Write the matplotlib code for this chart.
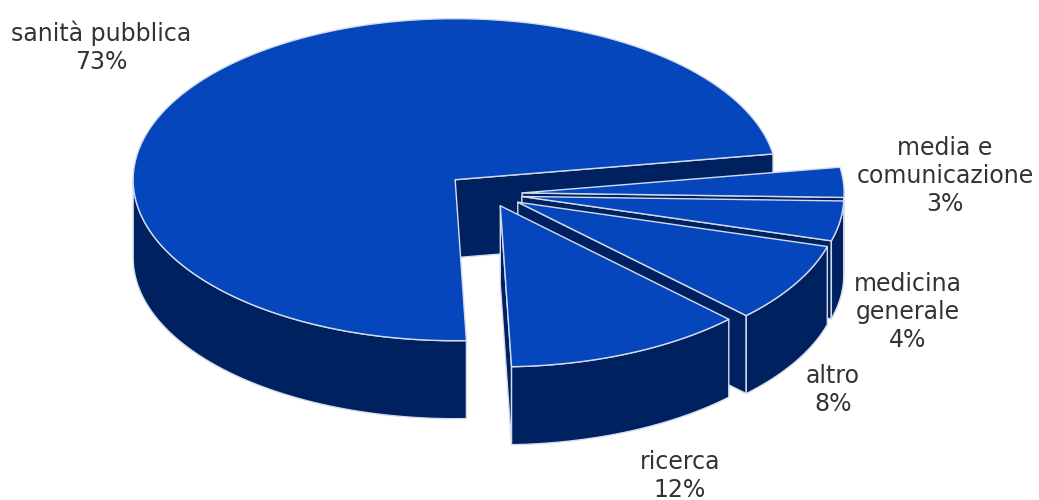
import numpy as np
import matplotlib
matplotlib.use("Agg")
import matplotlib.pyplot as plt
from matplotlib.patches import Polygon

# --- data ---
labels = ["media e\ncomunicazione", "sanità pubblica", "ricerca", "altro", "medicina\ngenerale"]
shares = [3, 73, 12, 8, 4]
explode = [0.10, 0.14, 0.08, 0.10, 0.10]

# --- layout (pixel space) ---
W, H = 1039, 500
CX, CY = 490, 194
RX, RY = 322, 161
DEPTH = 78
START = -1.6  # degrees, slices run counterclockwise
label_pos = [(945, 176), (101, 47), (680, 476), (833, 390), (908, 312)]

TOP = "#0646bd"
SIDE = "#00215f"
EDGE = "#d4dcec"

fig = plt.figure(figsize=(W / 100, H / 100), dpi=100)
ax = fig.add_axes([0, 0, 1, 1])
ax.set_xlim(0, W)
ax.set_ylim(H, 0)
ax.axis("off")


def pt(cx, cy, t, r=1.0, dz=0.0):
    t = np.radians(t)
    return cx + r * RX * np.cos(t), cy - r * RY * np.sin(t) + dz


def arc(cx, cy, t0, t1, dz=0.0):
    ts = np.linspace(t0, t1, max(int(abs(t1 - t0) * 2), 2))
    return [pt(cx, cy, t, dz=dz) for t in ts]


def front_ranges(a, b):
    # parts of [a, b] where the rim faces the viewer (sin < 0)
    out = []
    for k in (-1, 0, 1):
        lo, hi = 180 + 360 * k, 360 + 360 * k
        s, e = max(a, lo), min(b, hi)
        if e > s:
            out.append((s, e))
    return out


total = sum(shares)
slices = []
ang = START
for lab, v, ex in zip(labels, shares, explode):
    span = 360 * v / total
    a, b = ang, ang + span
    mid = np.radians((a + b) / 2)
    cx = CX + ex * RX * np.cos(mid)
    cy = CY - ex * RY * np.sin(mid)
    slices.append((a, b, cx, cy, np.sin(mid)))
    ang = b

kw = dict(edgecolor=EDGE, linewidth=1.0, joinstyle="round")

# back slices first
for a, b, cx, cy, s in sorted(slices, key=lambda x: -x[4]):
    apex = (cx, cy)
    apex_lo = (cx, cy + DEPTH)
    # radial walls facing the viewer
    for edge, normal in ((a, a - 90), (b, b + 90)):
        if np.sin(np.radians(normal)) < 0:
            o = pt(cx, cy, edge)
            o_lo = pt(cx, cy, edge, dz=DEPTH)
            ax.add_patch(Polygon([apex, o, o_lo, apex_lo], closed=True,
                                 facecolor=SIDE, **kw))
    # curved rim
    for t0, t1 in front_ranges(a, b):
        poly = arc(cx, cy, t0, t1) + arc(cx, cy, t0, t1, dz=DEPTH)[::-1]
        ax.add_patch(Polygon(poly, closed=True, facecolor=SIDE, **kw))
    # top face
    ax.add_patch(Polygon([apex] + arc(cx, cy, a, b), closed=True,
                         facecolor=TOP, **kw))

for lab, v, (x, y) in zip(labels, shares, label_pos):
    ax.text(x, y, f"{lab}\n{v}%", ha="center", va="center",
            fontsize=17, color="#333333", linespacing=1.22,
            family="DejaVu Sans")

fig.savefig("out.png", dpi=100, facecolor="white")
